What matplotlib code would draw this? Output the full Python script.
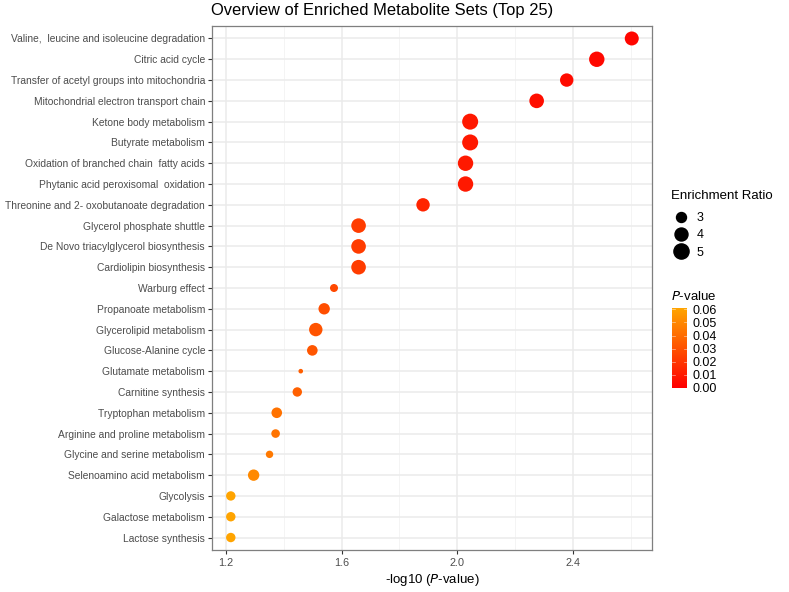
import numpy as np
import matplotlib
matplotlib.use("Agg")
import matplotlib.pyplot as plt
from matplotlib.colors import LinearSegmentedColormap, Normalize
from matplotlib.lines import Line2D

plt.rcParams['font.family'] = ['Liberation Sans', 'DejaVu Sans']

# pathway names, top of the chart first
pathways = [
    "Valine,  leucine and isoleucine degradation",
    "Citric acid cycle",
    "Transfer of acetyl groups into mitochondria",
    "Mitochondrial electron transport chain",
    "Ketone body metabolism",
    "Butyrate metabolism",
    "Oxidation of branched chain  fatty acids",
    "Phytanic acid peroxisomal  oxidation",
    "Threonine and 2- oxobutanoate degradation",
    "Glycerol phosphate shuttle",
    "De Novo triacylglycerol biosynthesis",
    "Cardiolipin biosynthesis",
    "Warburg effect",
    "Propanoate metabolism",
    "Glycerolipid metabolism",
    "Glucose-Alanine cycle",
    "Glutamate metabolism",
    "Carnitine synthesis",
    "Tryptophan metabolism",
    "Arginine and proline metabolism",
    "Glycine and serine metabolism",
    "Selenoamino acid metabolism",
    "Glycolysis",
    "Galactose metabolism",
    "Lactose synthesis",
]

# -log10(p)
log_p = [2.604, 2.483, 2.379, 2.275, 2.045, 2.045, 2.029, 2.029, 1.882,
         1.659, 1.659, 1.659, 1.574, 1.540, 1.511, 1.499, 1.459, 1.447,
         1.376, 1.372, 1.351, 1.296, 1.217, 1.217, 1.217]

enrichment = [4.43, 5.11, 4.17, 4.71, 5.43, 5.43, 5.11, 5.11, 4.17,
              4.71, 4.71, 4.71, 2.58, 3.41, 4.17, 3.17, 2.30, 2.86,
              3.17, 2.69, 2.49, 3.41, 2.86, 2.86, 2.86]

size_breaks = [3, 4, 5]
p_ticks = [0.00, 0.01, 0.02, 0.03, 0.04, 0.05, 0.06]

log_p = np.array(log_p)
enrichment = np.array(enrichment)
p_val = 10 ** (-log_p)
emin, emax = enrichment.min(), enrichment.max()


def marker_size(v):
    # ggplot-like area scaling, diameter in px -> points^2
    t = np.clip((np.asarray(v, dtype=float) - emin) / (emax - emin), 0, 1)
    d_px = 4.6 + 11.4 * np.sqrt(t)
    return (d_px * 0.72) ** 2


cmap = LinearSegmentedColormap.from_list("pv", ["#FF0000", "#FFA500"])
norm = Normalize(vmin=0.0, vmax=0.061)

W, H = 789, 592
fig = plt.figure(figsize=(W / 100, H / 100), dpi=100)
ax = fig.add_axes([212 / W, 1 - 550 / H, 440 / W, 524 / H])

ypos = np.arange(len(pathways))[::-1]
ax.scatter(log_p, ypos, s=marker_size(enrichment), c=p_val, cmap=cmap,
           norm=norm, edgecolors='none', zorder=3)

ax.set_xlim(1.152, 2.674)
ax.set_ylim(-0.6, len(pathways) - 0.4)
ax.set_yticks(ypos)
ax.set_yticklabels(pathways)
ax.set_xticks([1.2, 1.6, 2.0, 2.4])
ax.set_xticks([1.4, 1.8, 2.2, 2.6], minor=True)
ax.set_xticklabels(["1.2", "1.6", "2.0", "2.4"])

ax.grid(True, which='major', color='#EBEBEB', linewidth=1.1, zorder=0)
ax.grid(True, which='minor', axis='x', color='#F2F2F2', linewidth=0.6, zorder=0)
ax.set_axisbelow(True)
for sp in ax.spines.values():
    sp.set_color('#7F7F7F')
    sp.set_linewidth(0.9)
ax.tick_params(axis='both', which='major', length=3, width=0.8, color='#333333',
               labelcolor='#4D4D4D', pad=2)
ax.tick_params(axis='y', labelsize=7.4)
ax.tick_params(axis='x', labelsize=7.8, pad=3)
ax.tick_params(axis='x', which='minor', length=0)

ax.set_xlabel(r"-log10 ($\it{P}$-value)", fontsize=9.5, labelpad=3)
fig.text(211 / W, 1 - 10 / H, "Overview of Enriched Metabolite Sets (Top 25)",
         fontsize=11.9, ha='left', va='center')

# size legend
fig.text(671 / W, 1 - 196 / H, "Enrichment Ratio", fontsize=9.5,
         ha='left', va='center')
handles = [Line2D([], [], marker='o', linestyle='none', color='black',
                  markersize=np.sqrt(marker_size(b))) for b in size_breaks]
leg = fig.legend(handles, [str(b) for b in size_breaks],
                 loc='upper left', bbox_to_anchor=(673 / W, 1 - 212 / H),
                 frameon=False, fontsize=9,
                 handletextpad=0.7, labelspacing=0.42, borderaxespad=0,
                 borderpad=0, handlelength=1.2)

# colour bar
cax = fig.add_axes([672 / W, 1 - 388 / H, 15 / W, 80 / H])
grad = np.linspace(0, 0.061, 200).reshape(-1, 1)
cax.imshow(grad, aspect='auto', origin='lower', cmap=cmap, norm=norm,
           extent=[0, 1, 0, 0.061])
cax.set_xticks([])
cax.yaxis.tick_right()
cax.set_yticks(p_ticks)
cax.set_yticklabels([f"{t:.2f}" for t in p_ticks])
cax.tick_params(axis='y', length=0, labelsize=9, pad=4)
for t in p_ticks:
    cax.plot([0, 0.2], [t, t], color='white', lw=0.5, alpha=0.6)
    cax.plot([0.8, 1], [t, t], color='white', lw=0.5, alpha=0.6)
cax.set_xlim(0, 1)
cax.set_ylim(0, 0.061)
for sp in cax.spines.values():
    sp.set_visible(False)
fig.text(671 / W, 1 - 296 / H, r"$\it{P}$-value", fontsize=9.5, ha='left', va='center')

fig.savefig("out.png", dpi=100, facecolor='white')
